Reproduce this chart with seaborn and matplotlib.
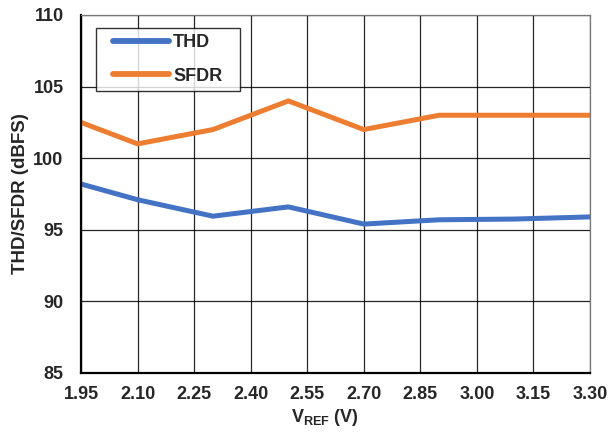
import numpy as np
import pandas as pd
import matplotlib
matplotlib.use("Agg")
import matplotlib.pyplot as plt
from matplotlib.path import Path
import seaborn as sns

# Dữ liệu
vref = [1.95, 2.10, 2.30, 2.50, 2.70, 2.90, 3.10, 3.30]
thd = [98.2, 97.1, 95.95, 96.6, 95.4, 95.7, 95.75, 95.9]
sfdr = [102.5, 101.0, 102.0, 104.0, 102.0, 103.0, 103.0, 103.0]
series_names = ["THD", "SFDR"]
colors = ["#4472C4", "#ED7D31"]
x_ticks = [1.95, 2.10, 2.25, 2.40, 2.55, 2.70, 2.85, 3.00, 3.15, 3.30]
y_ticks = [85, 90, 95, 100, 105, 110]

df = pd.DataFrame({
    "VREF": vref * 2,
    "value": thd + sfdr,
    "series": [series_names[0]] * len(vref) + [series_names[1]] * len(vref),
})

sns.set_theme(style="white")
plt.rcParams["font.family"] = ["Liberation Sans", "DejaVu Sans"]
plt.rcParams["mathtext.fontset"] = "custom"
plt.rcParams["mathtext.rm"] = "Liberation Sans"
plt.rcParams["mathtext.bf"] = "Liberation Sans:bold"

fig = plt.figure(figsize=(6.1, 4.36), dpi=100)
ax = fig.add_axes([0.1328, 0.1445, 0.8344, 0.8211])

sns.lineplot(data=df, x="VREF", y="value", hue="series", hue_order=series_names,
             palette=colors, linewidth=3.6, ax=ax, legend=True)

ax.set_xlim(1.95, 3.30)
ax.set_ylim(85, 110)
ax.set_xticks(x_ticks)
ax.set_xticklabels([f"{t:.2f}" for t in x_ticks])
ax.set_yticks(y_ticks)
ax.grid(True, color="black", linewidth=0.9, alpha=0.85)
ax.set_axisbelow(True)

for side in ["top", "right"]:
    ax.spines[side].set_color("#777777")
    ax.spines[side].set_linewidth(0.9)
for side in ["left", "bottom"]:
    ax.spines[side].set_color("black")
    ax.spines[side].set_linewidth(1.6)

ax.tick_params(axis="both", labelsize=13, length=3.6, width=1, color="black", direction="out")
ax.tick_params(axis="x", pad=5.5)
ax.tick_params(axis="y", pad=9)
for lab in ax.get_xticklabels() + ax.get_yticklabels():
    lab.set_fontweight("bold")

ax.set_xlabel(r"$\mathbf{V_{REF}}$ (V)", fontsize=13, fontweight="bold", labelpad=3)
ax.xaxis.label.set_x(0.48)
ax.set_ylabel("THD/SFDR (dBFS)", fontsize=13.5, fontweight="bold", labelpad=3)

leg = ax.legend(loc="upper left", bbox_to_anchor=(0.051, 0.9637), borderaxespad=0,
                frameon=True, fancybox=False, handlelength=3.1, handletextpad=0.2,
                borderpad=0.36, labelspacing=0.9, prop={"weight": "bold", "size": 13})


# khung legend rộng hơn theo chiều ngang (giống Excel)
def wide_box(x0, y0, width, height, mutation_size):
    ex = 0.62 * mutation_size
    verts = [(x0 - ex, y0), (x0 + width + ex, y0), (x0 + width + ex, y0 + height),
             (x0 - ex, y0 + height), (x0 - ex, y0)]
    codes = [Path.MOVETO, Path.LINETO, Path.LINETO, Path.LINETO, Path.CLOSEPOLY]
    return Path(verts, codes)


leg.get_frame().set_boxstyle(wide_box)
leg.get_frame().set_edgecolor("black")
leg.get_frame().set_linewidth(1.0)
for line in leg.get_lines():
    line.set_linewidth(4.2)

fig.savefig("out.png", dpi=100)
